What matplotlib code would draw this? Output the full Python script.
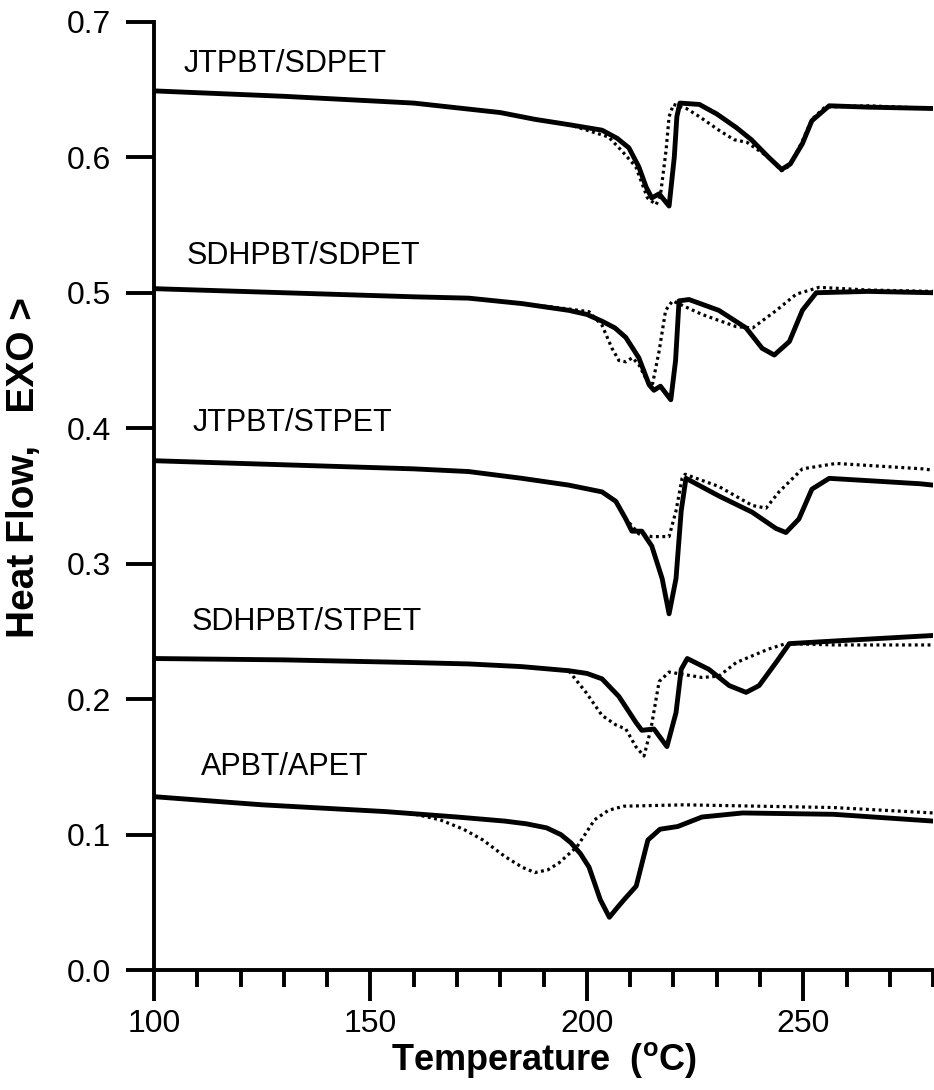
import matplotlib
matplotlib.use("Agg")
import matplotlib.pyplot as plt
from matplotlib.ticker import MultipleLocator, FormatStrFormatter

plt.rcParams['font.family'] = ['Liberation Sans', 'DejaVu Sans']

# DSC traces: solid = first heating, dotted = second sample
names = ["JTPBT/SDPET", "SDHPBT/SDPET", "JTPBT/STPET", "SDHPBT/STPET", "APBT/APET"]
label_x = [106.7, 107.4, 109.0, 108.6, 110.9]
label_y = [0.669, 0.527, 0.404, 0.257, 0.150]

t1_solid = [100, 130, 160, 180, 188, 196, 203.5, 207, 209.7, 212, 213.7, 215, 216.7, 219, 220.2,
            220.8, 221.5, 226, 230, 234.5, 238, 242, 245, 247, 249.8, 252, 256, 265, 280]
h1_solid = [0.649, 0.645, 0.640, 0.633, 0.628, 0.624, 0.620, 0.614, 0.607, 0.593, 0.578, 0.570,
            0.573, 0.564, 0.600, 0.630, 0.640, 0.639, 0.632, 0.622, 0.613, 0.600, 0.591, 0.595,
            0.610, 0.627, 0.638, 0.637, 0.636]
t1_dot = [100, 130, 160, 180, 188, 196, 205, 208, 211.3, 214, 216, 217, 218.3, 219, 220, 223,
          226, 230.5, 234, 237, 242, 245, 247, 249.8, 252, 255, 265, 280]
h1_dot = [0.649, 0.645, 0.640, 0.633, 0.628, 0.624, 0.615, 0.605, 0.593, 0.570, 0.565, 0.572,
          0.605, 0.630, 0.639, 0.636, 0.630, 0.620, 0.613, 0.611, 0.600, 0.590, 0.594, 0.612,
          0.628, 0.637, 0.638, 0.636]

t2_solid = [100, 130, 160, 172.7, 185, 195.8, 200, 203.5, 206.5, 209, 212, 214.4, 215.5, 217,
            219.4, 220.5, 221.3, 223.6, 230.5, 236.8, 240.5, 243.3, 246.8, 249.8, 253, 265, 280]
h2_solid = [0.503, 0.500, 0.497, 0.496, 0.492, 0.487, 0.484, 0.479, 0.474, 0.467, 0.452, 0.432,
            0.428, 0.431, 0.421, 0.450, 0.494, 0.495, 0.487, 0.474, 0.459, 0.454, 0.464, 0.487,
            0.500, 0.501, 0.500]
t2_dot = [100, 130, 160, 172.7, 185, 195.8, 200.5, 203.5, 205.8, 207.4, 209, 210.5, 212, 214.4,
          215.2, 216.7, 218.2, 219.8, 226.6, 234.5, 238.3, 243.8, 248.4, 253.7, 265, 280]
h2_dot = [0.503, 0.500, 0.497, 0.496, 0.492, 0.488, 0.486, 0.476, 0.459, 0.450, 0.449, 0.452,
          0.447, 0.432, 0.433, 0.457, 0.487, 0.494, 0.484, 0.475, 0.474, 0.487, 0.499, 0.504,
          0.502, 0.501]

t3_solid = [100, 130, 160, 172.7, 185, 195.8, 203.5, 206.7, 209, 210.4, 212.7, 215, 217.4, 219,
            220.6, 221.8, 222.9, 230.5, 238.2, 243.7, 246, 249, 252, 256, 277, 280]
h3_solid = [0.376, 0.373, 0.370, 0.368, 0.363, 0.358, 0.353, 0.346, 0.333, 0.324, 0.324, 0.313,
            0.289, 0.263, 0.289, 0.339, 0.363, 0.350, 0.338, 0.326, 0.323, 0.333, 0.355, 0.363,
            0.359, 0.358]
t3_dot = [100, 130, 160, 172.7, 185, 195.8, 203.5, 206.7, 209, 210.4, 212, 215, 219, 220.6, 222,
          222.7, 230.5, 238.2, 241.4, 244.4, 249.8, 257.6, 277.6, 280]
h3_dot = [0.376, 0.373, 0.370, 0.368, 0.363, 0.358, 0.353, 0.346, 0.333, 0.328, 0.322, 0.320,
          0.320, 0.339, 0.363, 0.366, 0.357, 0.343, 0.341, 0.353, 0.370, 0.374, 0.370, 0.369]

t4_solid = [100, 130, 160, 172.7, 185, 195.8, 200, 203.5, 207.4, 211.3, 212.7, 215.5, 218.5,
            220.6, 221.8, 223.2, 228.2, 232.9, 236.8, 239.8, 243.7, 246.8, 257.6, 280]
h4_solid = [0.230, 0.229, 0.227, 0.226, 0.224, 0.221, 0.219, 0.215, 0.202, 0.183, 0.177, 0.178,
            0.165, 0.190, 0.222, 0.230, 0.222, 0.210, 0.205, 0.210, 0.227, 0.241, 0.243, 0.247]
t4_dot = [100, 130, 160, 172.7, 185, 195.8, 199.8, 203.5, 206.7, 209, 211.3, 213.2, 214.8,
          216.7, 219, 226.6, 230.5, 234.5, 242, 246, 257.6, 280]
h4_dot = [0.230, 0.229, 0.227, 0.226, 0.224, 0.221, 0.205, 0.188, 0.181, 0.178, 0.165, 0.158,
          0.178, 0.213, 0.220, 0.216, 0.217, 0.227, 0.237, 0.241, 0.240, 0.240]

t5_solid = [100, 125, 153.5, 170, 181, 186, 190.7, 194, 196.3, 198.5, 200.5, 203.1, 205.2, 207,
            208.6, 211.4, 214.1, 216.9, 221, 226.6, 236, 257, 280]
h5_solid = [0.128, 0.122, 0.117, 0.113, 0.110, 0.108, 0.105, 0.100, 0.094, 0.086, 0.076, 0.052,
            0.039, 0.046, 0.052, 0.062, 0.096, 0.104, 0.106, 0.113, 0.116, 0.115, 0.110]
t5_dot = [100, 125, 153.5, 160.4, 166, 171.5, 176, 181, 185, 188, 191, 193.5, 197.7, 201.8,
          205, 208.6, 222.5, 257, 280]
h5_dot = [0.128, 0.122, 0.117, 0.115, 0.111, 0.104, 0.096, 0.084, 0.076, 0.072, 0.074, 0.079,
          0.091, 0.111, 0.118, 0.121, 0.122, 0.120, 0.116]

solid = [(t1_solid, h1_solid), (t2_solid, h2_solid), (t3_solid, h3_solid),
         (t4_solid, h4_solid), (t5_solid, h5_solid)]
dotted = [(t1_dot, h1_dot), (t2_dot, h2_dot), (t3_dot, h3_dot),
          (t4_dot, h4_dot), (t5_dot, h5_dot)]

fig = plt.figure(figsize=(9.34, 10.9), dpi=100)
ax = fig.add_axes([0.165, 0.110, 0.834, 0.870])

for (t, h) in dotted:
    ax.plot(t, h, color='black', lw=2.3, linestyle=(0, (0.9, 1.1)))
for (t, h) in solid:
    ax.plot(t, h, color='black', lw=3.5, solid_joinstyle='round', solid_capstyle='round')

for name, lx, ly in zip(names, label_x, label_y):
    ax.text(lx, ly, name, fontsize=22, ha='left', va='center')

ax.set_xlim(100, 280)
ax.set_ylim(0, 0.7)
ax.xaxis.set_major_locator(MultipleLocator(50))
ax.xaxis.set_minor_locator(MultipleLocator(10))
ax.yaxis.set_major_locator(MultipleLocator(0.1))
ax.yaxis.set_major_formatter(FormatStrFormatter('%.1f'))

for side in ['top', 'right']:
    ax.spines[side].set_visible(False)
for side in ['left', 'bottom']:
    ax.spines[side].set_linewidth(2.8)

ax.tick_params(axis='x', which='major', direction='out', length=22, width=2.8,
               labelsize=23, pad=6)
ax.tick_params(axis='x', which='minor', direction='out', length=12, width=2.8)
ax.tick_params(axis='y', which='major', direction='out', length=20, width=2.8,
               labelsize=23, pad=11)

ax.set_xlabel('Temperature  ($^{\\mathregular{o}}$C)', fontsize=26, fontweight='bold')
ax.set_ylabel('Heat Flow,   EXO >', fontsize=28, fontweight='bold')
ax.xaxis.set_label_coords(0.5, -0.074)
ax.yaxis.set_label_coords(-0.144, 0.53)

fig.savefig('out.png', dpi=100)
